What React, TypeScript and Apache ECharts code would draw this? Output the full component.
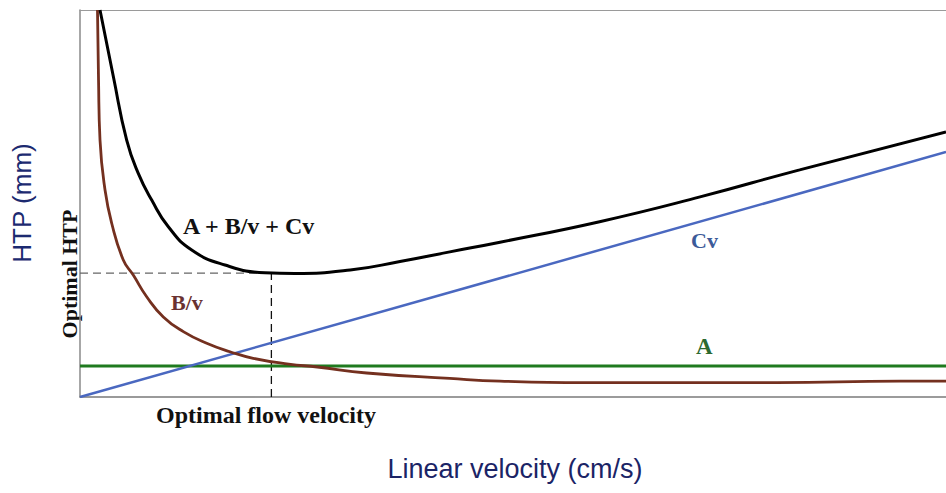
import React, { useEffect, useRef } from "react";
import * as echarts from "echarts";

// Plate height (HTP) versus linear velocity: van Deemter style curves.
const totalV = [2.31, 3.85, 5.39, 6.73, 8.28, 10.2, 12.9, 16.74, 21.36, 24.8, 31.2, 36.95, 42.7, 48.5, 60.0, 71.6, 83.1, 100];
const totalH = [100, 82.8, 66.4, 57.8, 50.9, 44.0, 38.0, 34.1, 32.1, 31.9, 32.8, 35.0, 37.5, 40.0, 45.3, 51.7, 58.7, 68.5];

const diffusionV = [2.02, 2.14, 2.31, 2.89, 3.66, 5.0, 6.15, 7.7, 9.62, 11.93, 14.63, 17.32, 20.0, 24.1, 27.4, 33.1, 42.7, 48.5, 58.1, 71.6, 80.5, 94.7, 100];
const diffusionH = [100, 81.9, 66.4, 53.5, 44.9, 35.4, 31.5, 25.9, 20.7, 16.9, 13.9, 11.7, 10.0, 8.5, 7.75, 6.2, 4.8, 4.1, 3.7, 3.7, 3.7, 4.1, 4.1];

const massTransferV = [0, 100];
const massTransferH = [0, 63.3];

const eddyV = [0, 100];
const eddyH = [8, 8];

const optimalVelocity = 22.1;
const optimalHtp = 32.0;

const zip = (xs: number[], ys: number[]) => xs.map((x, i) => [x, ys[i]]);

const SERIF = '"Liberation Serif", "Times New Roman", serif';
const SANS = '"Liberation Sans", Arial, sans-serif';

export default function App() {
  const ref = useRef<HTMLDivElement>(null);

  useEffect(() => {
    if (!ref.current) return;
    const chart = echarts.init(ref.current, undefined, { renderer: "svg" });

    const hiddenAxis = {
      type: "value" as const,
      min: 0,
      max: 100,
      axisTick: { show: false },
      axisLabel: { show: false },
      splitLine: { show: false },
    };

    chart.setOption({
      animation: false,
      backgroundColor: "#ffffff",
      grid: { left: 80, top: 10, right: 0, bottom: 96 },
      xAxis: [
        { ...hiddenAxis, position: "bottom", axisLine: { show: true, lineStyle: { color: "#7a7a7a", width: 1.5 } } },
        { ...hiddenAxis, position: "top", axisLine: { show: true, lineStyle: { color: "#9a9a9a", width: 1.2 } } },
      ],
      yAxis: { ...hiddenAxis, axisLine: { show: true, lineStyle: { color: "#8a8a8a", width: 1.5 } } },
      series: [
        {
          type: "line",
          data: [[0, optimalHtp], [optimalVelocity, optimalHtp]],
          symbol: "none",
          lineStyle: { color: "#666666", width: 1.3, type: [8, 5] },
          z: 1,
        },
        {
          type: "line",
          data: [[optimalVelocity, 0], [optimalVelocity, optimalHtp]],
          symbol: "none",
          lineStyle: { color: "#111111", width: 1.3, type: [8, 5] },
          z: 1,
        },
        {
          type: "line",
          data: zip(eddyV, eddyH),
          symbol: "none",
          lineStyle: { color: "#1f7a1f", width: 3 },
          z: 2,
        },
        {
          type: "line",
          data: zip(massTransferV, massTransferH),
          symbol: "none",
          lineStyle: { color: "#4a68c0", width: 2.5 },
          z: 3,
        },
        {
          type: "line",
          data: zip(diffusionV, diffusionH),
          symbol: "none",
          smooth: 0.5,
          lineStyle: { color: "#74301f", width: 2.8 },
          z: 4,
        },
        {
          type: "line",
          data: zip(totalV, totalH),
          symbol: "none",
          smooth: 0.5,
          lineStyle: { color: "#000000", width: 3 },
          z: 5,
        },
      ],
      graphic: [
        {
          type: "text",
          x: 183,
          y: 226,
          style: { text: "A + B/v + Cv", font: `bold 24px ${SERIF}`, fill: "#111111", textAlign: "left", textVerticalAlign: "middle" },
        },
        {
          type: "text",
          x: 171,
          y: 302,
          style: { text: "B/v", font: `bold 22px ${SERIF}`, fill: "#6a3232", textAlign: "left", textVerticalAlign: "middle" },
        },
        {
          type: "text",
          x: 691,
          y: 240,
          style: { text: "Cv", font: `bold 22px ${SERIF}`, fill: "#3c5a98", textAlign: "left", textVerticalAlign: "middle" },
        },
        {
          type: "text",
          x: 696,
          y: 346,
          style: { text: "A", font: `bold 23px ${SERIF}`, fill: "#2d6a30", textAlign: "left", textVerticalAlign: "middle" },
        },
        {
          type: "text",
          x: 69,
          y: 274,
          rotation: Math.PI / 2,
          style: { text: "Optimal HTP", font: `bold 22px ${SERIF}`, fill: "#111111", textAlign: "center", textVerticalAlign: "middle" },
        },
        {
          type: "text",
          x: 156,
          y: 415,
          style: { text: "Optimal flow velocity", font: `bold 24px ${SERIF}`, fill: "#111111", textAlign: "left", textVerticalAlign: "middle" },
        },
        {
          type: "text",
          x: 515,
          y: 469,
          style: { text: "Linear velocity (cm/s)", font: `27px ${SANS}`, fill: "#1b2466", textAlign: "center", textVerticalAlign: "middle" },
        },
        {
          type: "text",
          x: 22,
          y: 203,
          rotation: Math.PI / 2,
          style: { text: "HTP (mm)", font: `26px ${SANS}`, fill: "#1c2a70", textAlign: "center", textVerticalAlign: "middle" },
        },
      ],
    });

    return () => chart.dispose();
  }, []);

  return (
    <div
      ref={ref}
      style={{ position: "fixed", left: 0, top: 0, width: 946, height: 493, background: "#ffffff" }}
    />
  );
}
